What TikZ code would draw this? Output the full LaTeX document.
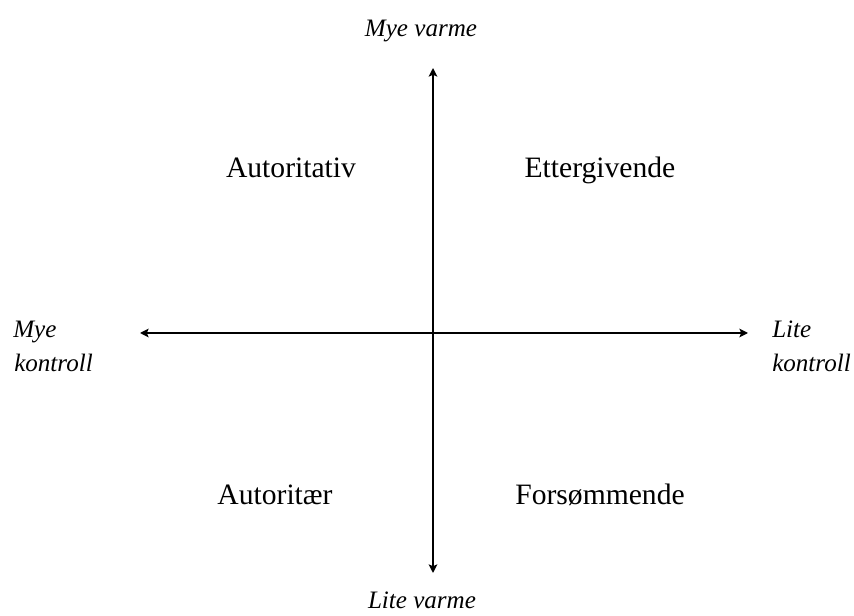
\documentclass[tikz,border=0pt]{standalone}
\usepackage{fontspec}
\setmainfont{Liberation Serif}
\usetikzlibrary{arrows.meta}
\begin{document}
\begin{tikzpicture}[x=0.75pt,y=-0.75pt,
  axis/.style={line width=1.9pt,{Stealth[length=6.5pt,width=6.5pt,inset=1.5pt]}-{Stealth[length=6.5pt,width=6.5pt,inset=1.5pt]}},
  quad/.style={font=\fontsize{22.2}{24}\selectfont,inner sep=0pt},
  axlabel/.style={font=\fontsize{18.8}{20}\selectfont\itshape,inner sep=0pt}]
\useasboundingbox (0,0) rectangle (854,616);
\coordinate (top) at (433,68);
\coordinate (bot) at (433,573);
\coordinate (left) at (140,333);
\coordinate (right) at (748,333);
\draw[axis] (bot) -- (top);
\draw[axis] (left) -- (right);
\node[axlabel,anchor=base] (mv) at (421,37) {Mye varme};
\node[axlabel,anchor=base] (lv) at (422,609) {Lite varme};
\node[axlabel,anchor=base west] (mk1) at (13,338) {Mye};
\node[axlabel,anchor=base west] (mk2) at (14,372) {kontroll};
\node[axlabel,anchor=base west] (lk1) at (772,338) {Lite};
\node[axlabel,anchor=base west] (lk2) at (772,372) {kontroll};
\node[quad,anchor=base] (a1) at (291,178) {Autoritativ};
\node[quad,anchor=base] (a2) at (600,178) {Ettergivende};
\node[quad,anchor=base] (a3) at (275,505) {Autoritær};
\node[quad,anchor=base] (a4) at (600,505) {Forsømmende};
\end{tikzpicture}
\end{document}
